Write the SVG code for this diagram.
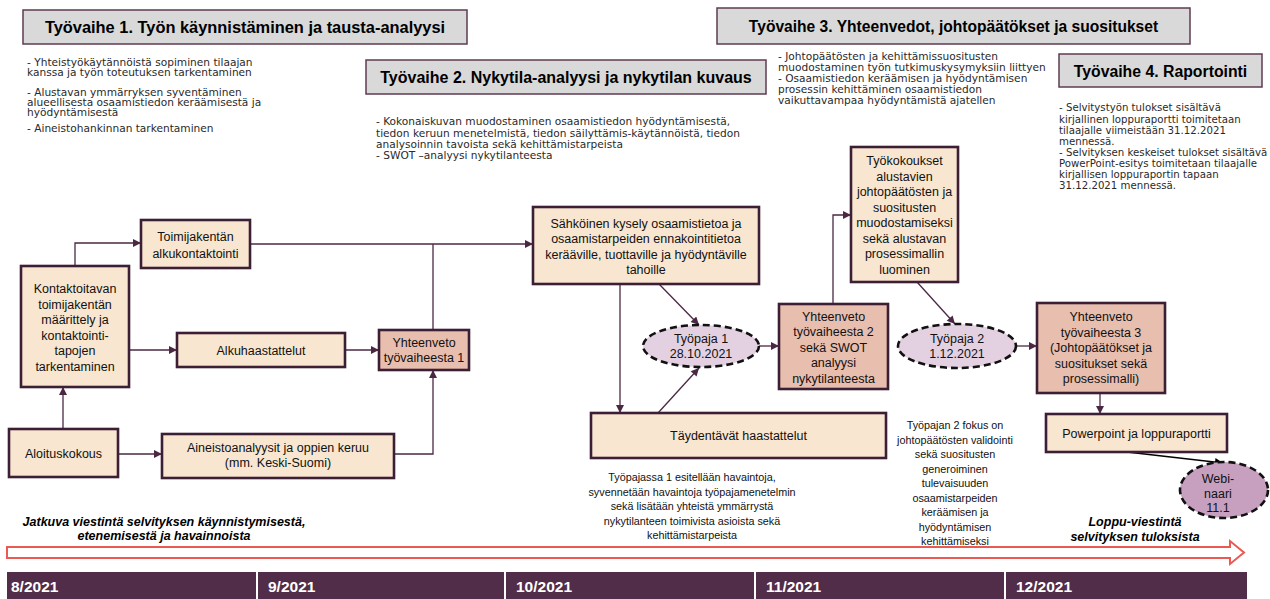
<svg xmlns="http://www.w3.org/2000/svg" width="1270" height="599" viewBox="0 0 1270 599">
<defs>
<marker id="ah" viewBox="0 0 10 10" refX="10" refY="5" markerWidth="9" markerHeight="8" markerUnits="userSpaceOnUse" orient="auto"><path d="M0,0 L10,5 L0,10 z" fill="#4a2843"/></marker>
<marker id="ahk" viewBox="0 0 10 10" refX="10" refY="5" markerWidth="9" markerHeight="8" markerUnits="userSpaceOnUse" orient="auto"><path d="M0,0 L10,5 L0,10 z" fill="#000"/></marker>
</defs>
<style>
.hdr{fill:#d9d9d9;stroke:#5d3b52;stroke-width:1.5}
.ht{font-family:"Liberation Sans",Arial,sans-serif;font-weight:bold;font-size:16px;fill:#000;text-anchor:middle}
.desc{font-family:"DejaVu Sans","Open Sans",sans-serif;font-size:10.6px;fill:#2a2a2a}
.box{fill:#f8e6d0;stroke:#3d1f35;stroke-width:2.6}
.sum{fill:#e8beaf;stroke:#3d1f35;stroke-width:2.6}
.ell{fill:#e3d1e2;stroke:#111;stroke-width:2.6;stroke-dasharray:7 4}
.web{fill:#c8a0bf;stroke:#111;stroke-width:2.6;stroke-dasharray:7 4}
.nt{font-family:"Liberation Sans",Arial,sans-serif;font-size:12.5px;fill:#111;text-anchor:middle}
.note{font-family:"Liberation Sans",Arial,sans-serif;font-size:10.8px;fill:#111;text-anchor:middle}
.bi{font-family:"Liberation Sans",Arial,sans-serif;font-size:12.5px;font-weight:bold;font-style:italic;fill:#000;text-anchor:middle}
.con{fill:none;stroke:#4a2843;stroke-width:1.3}
.mon{font-family:"Liberation Sans",Arial,sans-serif;font-size:15.5px;font-weight:bold;fill:#fff}
</style>

<g id="phase1">
<rect class="hdr" x="23" y="10" width="444" height="34"/>
<text class="ht" x="245" y="32.5" style="font-size:16.4px">Työvaihe 1. Työn käynnistäminen ja tausta-analyysi</text>
<text class="desc"><tspan x="27" y="65.5">- Yhteistyökäytännöistä sopiminen tilaajan</tspan><tspan x="27" y="76">kanssa ja työn toteutuksen tarkentaminen</tspan><tspan x="27" y="96">- Alustavan ymmärryksen syventäminen</tspan><tspan x="27" y="106">alueellisesta osaamistiedon keräämisestä ja</tspan><tspan x="27" y="116">hyödyntämisestä</tspan><tspan x="27" y="132">- Aineistohankinnan tarkentaminen</tspan></text>
</g>
<g id="phase2">
<rect class="hdr" x="366" y="60" width="400" height="34"/>
<text class="ht" x="566" y="83">Työvaihe 2. Nykytila-analyysi ja nykytilan kuvaus</text>
<text class="desc"><tspan x="376" y="125">- Kokonaiskuvan muodostaminen osaamistiedon hyödyntämisestä,</tspan><tspan x="376" y="136.5">tiedon keruun menetelmistä, tiedon säilyttämis-käytännöistä, tiedon</tspan><tspan x="376" y="148">analysoinnin tavoista sekä kehittämistarpeista</tspan><tspan x="376" y="158.5">- SWOT –analyysi nykytilanteesta</tspan></text>
</g>
<g id="phase3">
<rect class="hdr" x="717" y="8" width="473" height="36"/>
<text class="ht" x="953.5" y="31.5" style="font-size:15.6px">Työvaihe 3. Yhteenvedot, johtopäätökset ja suositukset</text>
<text class="desc"><tspan x="778" y="59.5">- Johtopäätösten ja kehittämissuositusten</tspan><tspan x="778" y="70.5">muodostaminen työn tutkimuskysymyksiin liittyen</tspan><tspan x="778" y="81.5">- Osaamistiedon keräämisen ja hyödyntämisen</tspan><tspan x="778" y="92.5">prosessin kehittäminen osaamistiedon</tspan><tspan x="778" y="103.5">vaikuttavampaa hyödyntämistä ajatellen</tspan></text>
</g>
<g id="phase4">
<rect class="hdr" x="1059" y="54" width="203" height="33"/>
<text class="ht" x="1160.5" y="76.5" style="font-size:15.8px">Työvaihe 4. Raportointi</text>
<text class="desc" style="font-size:10.2px"><tspan x="1059" y="111">- Selvitystyön tulokset sisältävä</tspan><tspan x="1059" y="122.5">kirjallinen loppuraportti toimitetaan</tspan><tspan x="1059" y="133.5">tilaajalle viimeistään 31.12.2021</tspan><tspan x="1059" y="144.5">mennessä.</tspan><tspan x="1059" y="155.5">- Selvityksen keskeiset tulokset sisältävä</tspan><tspan x="1059" y="166.5">PowerPoint-esitys toimitetaan tilaajalle</tspan><tspan x="1059" y="177.5">kirjallisen loppuraportin tapaan</tspan><tspan x="1059" y="189">31.12.2021 mennessä.</tspan></text>
</g>

<g id="connectors">
<polyline class="con" points="75,266 75,243 141,243" marker-end="url(#ah)"/>
<line class="con" x1="250" y1="244" x2="533" y2="244" marker-end="url(#ah)"/>
<line class="con" x1="433" y1="330" x2="433" y2="244"/>
<line class="con" x1="129" y1="350" x2="177" y2="350" marker-end="url(#ah)"/>
<line class="con" x1="345" y1="350" x2="379" y2="350" marker-end="url(#ah)"/>
<line class="con" x1="63" y1="429" x2="63" y2="387" marker-end="url(#ah)"/>
<line class="con" x1="118" y1="454" x2="162" y2="454" marker-end="url(#ah)"/>
<polyline class="con" points="394,454 433,454 433,370" marker-end="url(#ah)"/>
<line class="con" x1="620" y1="284" x2="620" y2="413" marker-end="url(#ah)"/>
<line class="con" x1="659" y1="284" x2="699" y2="325" marker-end="url(#ah)"/>
<line class="con" x1="658" y1="413" x2="699" y2="368" marker-end="url(#ah)"/>
<line class="con" x1="759" y1="346" x2="779" y2="346" marker-end="url(#ah)"/>
<polyline class="con" points="833,304 833,215 851,215" marker-end="url(#ah)"/>
<line class="con" x1="917" y1="282" x2="955" y2="324" marker-end="url(#ah)"/>
<line class="con" x1="1017" y1="346" x2="1037" y2="346" marker-end="url(#ah)"/>
<line class="con" x1="1100" y1="393" x2="1100" y2="414" marker-end="url(#ah)"/>
<line x1="1127" y1="452" x2="1223" y2="463" stroke="#000" stroke-width="1.3" marker-end="url(#ahk)"/>
</g>

<g id="n-toimija">
<rect class="box" x="141" y="220" width="109" height="48"/>
<text class="nt"><tspan x="195.5" y="241">Toimijakentän</tspan><tspan x="195.5" y="258">alkukontaktointi</tspan></text>
</g>
<g id="n-kontakt">
<rect class="box" x="21" y="266" width="108" height="121"/>
<text class="nt"><tspan x="75" y="293">Kontaktoitavan</tspan><tspan x="75" y="308.5">toimijakentän</tspan><tspan x="75" y="324">määrittely ja</tspan><tspan x="75" y="339.5">kontaktointi-</tspan><tspan x="75" y="355">tapojen</tspan><tspan x="75" y="370.5">tarkentaminen</tspan></text>
</g>
<g id="n-alku">
<rect class="box" x="177" y="333" width="168" height="34"/>
<text class="nt" x="261" y="354.5">Alkuhaastattelut</text>
</g>
<g id="n-yht1">
<rect class="sum" x="379" y="330" width="90" height="40"/>
<text class="nt"><tspan x="424" y="347">Yhteenveto</tspan><tspan x="424" y="362">työvaiheesta 1</tspan></text>
</g>
<g id="n-aloitus">
<rect class="box" x="9" y="429" width="109" height="48"/>
<text class="nt" x="63.5" y="457.5">Aloituskokous</text>
</g>
<g id="n-aineisto">
<rect class="box" x="162" y="434" width="232" height="44"/>
<text class="nt"><tspan x="278" y="452">Aineistoanalyysit ja oppien keruu</tspan><tspan x="278" y="467">(mm. Keski-Suomi)</tspan></text>
</g>
<g id="n-sahkoinen">
<rect class="box" x="533" y="207" width="226" height="77"/>
<text class="nt"><tspan x="646" y="227.5">Sähköinen kysely osaamistietoa ja</tspan><tspan x="646" y="243">osaamistarpeiden ennakointitietoa</tspan><tspan x="646" y="258.5">kerääville, tuottaville ja hyödyntäville</tspan><tspan x="646" y="274">tahoille</tspan></text>
</g>
<g id="n-tyopaja1">
<ellipse class="ell" cx="701" cy="346" rx="58" ry="21"/>
<text class="nt"><tspan x="701" y="343">Työpaja 1</tspan><tspan x="701" y="358">28.10.2021</tspan></text>
</g>
<g id="n-yht2">
<rect class="sum" x="779" y="304" width="109" height="85"/>
<text class="nt"><tspan x="833.5" y="320.5">Yhteenveto</tspan><tspan x="833.5" y="336">työvaiheesta 2</tspan><tspan x="833.5" y="351.5">sekä SWOT</tspan><tspan x="833.5" y="367">analyysi</tspan><tspan x="833.5" y="382.5">nykytilanteesta</tspan></text>
</g>
<g id="n-taydentavat">
<rect class="box" x="591" y="413" width="295" height="45"/>
<text class="nt" x="738.5" y="440">Täydentävät haastattelut</text>
</g>
<g id="n-tyokokoukset">
<rect class="box" x="851" y="147" width="107" height="135"/>
<text class="nt"><tspan x="904.5" y="165">Työkokoukset</tspan><tspan x="904.5" y="180.5">alustavien</tspan><tspan x="904.5" y="196">johtopäätösten ja</tspan><tspan x="904.5" y="211.5">suositusten</tspan><tspan x="904.5" y="227">muodostamiseksi</tspan><tspan x="904.5" y="242.5">sekä alustavan</tspan><tspan x="904.5" y="258">prosessimallin</tspan><tspan x="904.5" y="273.5">luominen</tspan></text>
</g>
<g id="n-tyopaja2">
<ellipse class="ell" cx="957" cy="346" rx="59" ry="22"/>
<text class="nt"><tspan x="957" y="343">Työpaja 2</tspan><tspan x="957" y="358">1.12.2021</tspan></text>
</g>
<g id="n-yht3">
<rect class="sum" x="1037" y="303" width="128" height="90"/>
<text class="nt"><tspan x="1101" y="321">Yhteenveto</tspan><tspan x="1101" y="336.5">työvaiheesta 3</tspan><tspan x="1101" y="352">(Johtopäätökset ja</tspan><tspan x="1101" y="367.5">suositukset sekä</tspan><tspan x="1101" y="383">prosessimalli)</tspan></text>
</g>
<g id="n-powerpoint">
<rect class="box" x="1046" y="414" width="181" height="38"/>
<text class="nt" x="1136.5" y="437.5">Powerpoint ja loppuraportti</text>
</g>
<g id="n-webinaari">
<ellipse class="web" cx="1224" cy="490" rx="44" ry="28"/>
<text class="nt"><tspan x="1218" y="483">Webi-</tspan><tspan x="1218" y="497.5">naari</tspan><tspan x="1218" y="512">11.1</tspan></text>
</g>

<g id="notes">
<text class="note"><tspan x="692" y="481">Työpajassa 1 esitellään havaintoja,</tspan><tspan x="692" y="495.5">syvennetään havaintoja  työpajamenetelmin</tspan><tspan x="692" y="510">sekä lisätään yhteistä ymmärrystä</tspan><tspan x="692" y="524.5">nykytilanteen toimivista asioista sekä</tspan><tspan x="692" y="539">kehittämistarpeista</tspan></text>
<text class="note"><tspan x="955" y="429">Työpajan 2 fokus on</tspan><tspan x="955" y="443.5">johtopäätösten validointi</tspan><tspan x="955" y="458">sekä suositusten</tspan><tspan x="955" y="472.5">generoiminen</tspan><tspan x="955" y="487">tulevaisuuden</tspan><tspan x="955" y="501.5">osaamistarpeiden</tspan><tspan x="955" y="516">keräämisen ja</tspan><tspan x="955" y="530.5">hyödyntämisen</tspan><tspan x="955" y="545">kehittämiseksi</tspan></text>
<text class="bi"><tspan x="164" y="526">Jatkuva viestintä selvityksen käynnistymisestä,</tspan><tspan x="164" y="540">etenemisestä ja  havainnoista</tspan></text>
<text class="bi"><tspan x="1135" y="526">Loppu-viestintä</tspan><tspan x="1135" y="541">selvityksen tuloksista</tspan></text>
</g>

<g id="timeline-arrow">
<polygon points="7,547 1230,547 1230,541 1244,552.5 1230,564 1230,558 7,558" fill="#fff" stroke="#ea5a52" stroke-width="2"/>
</g>
<g id="months">
<rect x="7" y="572" width="1240" height="27" fill="#522d4a"/>
<g stroke="#fff" stroke-width="2"><line x1="257" y1="572" x2="257" y2="599"/><line x1="505" y1="572" x2="505" y2="599"/><line x1="755" y1="572" x2="755" y2="599"/><line x1="1005" y1="572" x2="1005" y2="599"/></g>
<text class="mon" x="11" y="592">8/2021</text>
<text class="mon" x="268" y="592">9/2021</text>
<text class="mon" x="516" y="592">10/2021</text>
<text class="mon" x="766" y="592">11/2021</text>
<text class="mon" x="1016" y="592">12/2021</text>
</g>
</svg>
